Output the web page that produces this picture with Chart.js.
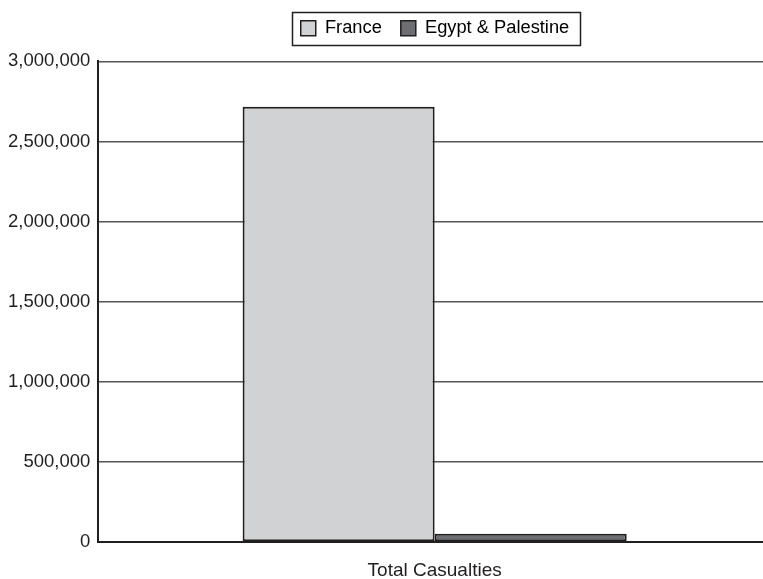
<!DOCTYPE html>
<html>
<head>
<meta charset="utf-8">
<script src="https://cdn.jsdelivr.net/npm/chart.js@4.4.1/dist/chart.umd.min.js"></script>
<style>
  html, body { margin: 0; padding: 0; background: #ffffff; overflow: hidden; }
  #wrap { width: 763px; height: 579px; position: relative; overflow: hidden; }
</style>
</head>
<body>
<div id="wrap"><canvas id="c" width="870" height="599"></canvas></div>
<script>
// Categories and series
const categories = ['Total Casualties'];
const franceValues = [2717000];
const egyptValues = [51500];
const seriesNames = ['France', 'Egypt & Palestine'];
const yTicks = [0, 500000, 1000000, 1500000, 2000000, 2500000, 3000000];

const FONT = '"Liberation Sans", Arial, Helvetica, sans-serif';
const LEGEND_GAP = 14; // extra room between legend and plot

// Legend spacing and a thin frame around the legend items
const legendFrame = {
  id: 'legendFrame',
  afterInit(chart) {
    const legend = chart.legend;
    if (!legend) return;
    const fit = legend.fit;
    legend.fit = function () {
      fit.call(this);
      this.height += LEGEND_GAP;
    };
  },
  afterDraw(chart) {
    const boxes = chart.legend && chart.legend.legendHitBoxes;
    if (!boxes || !boxes.length) return;
    let l = Infinity, t = Infinity, r = -Infinity, b = -Infinity;
    boxes.forEach(h => {
      l = Math.min(l, h.left); t = Math.min(t, h.top);
      r = Math.max(r, h.left + h.width); b = Math.max(b, h.top + h.height);
    });
    const ctx = chart.ctx;
    ctx.save();
    ctx.strokeStyle = '#231f20';
    ctx.lineWidth = 1.5;
    ctx.strokeRect(Math.round(l - 9) + 0.5, Math.round(t - 7) + 0.5,
                   Math.round(r - l + 19), Math.round(b - t + 15));
    ctx.restore();
  }
};

new Chart(document.getElementById('c'), {
  type: 'bar',
  data: {
    labels: categories,
    datasets: [
      {
        label: seriesNames[0],
        data: franceValues,
        backgroundColor: '#d1d2d4',
        borderColor: '#231f20',
        borderWidth: 2,
        borderSkipped: false
      },
      {
        label: seriesNames[1],
        data: egyptValues,
        backgroundColor: '#6d6e71',
        borderColor: '#231f20',
        borderWidth: 2,
        borderSkipped: false
      }
    ]
  },
  options: {
    responsive: false,
    animation: false,
    devicePixelRatio: 1,
    categoryPercentage: 0.571,
    barPercentage: 1.0,
    layout: { padding: { top: 0, right: 0, left: 0, bottom: 0 } },
    plugins: {
      legend: {
        position: 'top',
        labels: {
          boxWidth: 15,
          boxHeight: 15,
          padding: 19,
          color: '#231f20',
          font: { family: FONT, size: 18.3 },
          generateLabels(chart) {
            return chart.data.datasets.map((ds, i) => ({
              text: ds.label,
              fillStyle: ds.backgroundColor,
              strokeStyle: '#231f20',
              lineWidth: 1.5,
              datasetIndex: i,
              hidden: false
            }));
          }
        }
      },
      tooltip: { enabled: false }
    },
    scales: {
      x: {
        grid: { display: false, drawTicks: false },
        border: { display: true, color: '#231f20', width: 2 },
        ticks: { color: '#231f20', font: { family: FONT, size: 19, lineHeight: 1 }, padding: 19 }
      },
      y: {
        min: 0,
        max: 3000000,
        afterBuildTicks(axis) { axis.ticks = yTicks.map(v => ({ value: v })); },
        grid: { color: '#555555', lineWidth: 1.5, drawTicks: false },
        border: { display: true, color: '#231f20', width: 2 },
        ticks: {
          color: '#231f20',
          padding: 8,
          font: { family: FONT, size: 18.5 },
          callback: v => Number(v).toLocaleString('en-US')
        }
      },
      // blank right-hand margin axis, keeps the plot symmetric
      yRight: {
        position: 'right',
        display: true,
        min: 0,
        max: 3000000,
        grid: { display: false, drawTicks: false },
        border: { display: false },
        ticks: { display: false },
        afterFit(scale) { scale.width = 99; }
      }
    }
  },
  plugins: [legendFrame]
});
</script>
</body>
</html>
